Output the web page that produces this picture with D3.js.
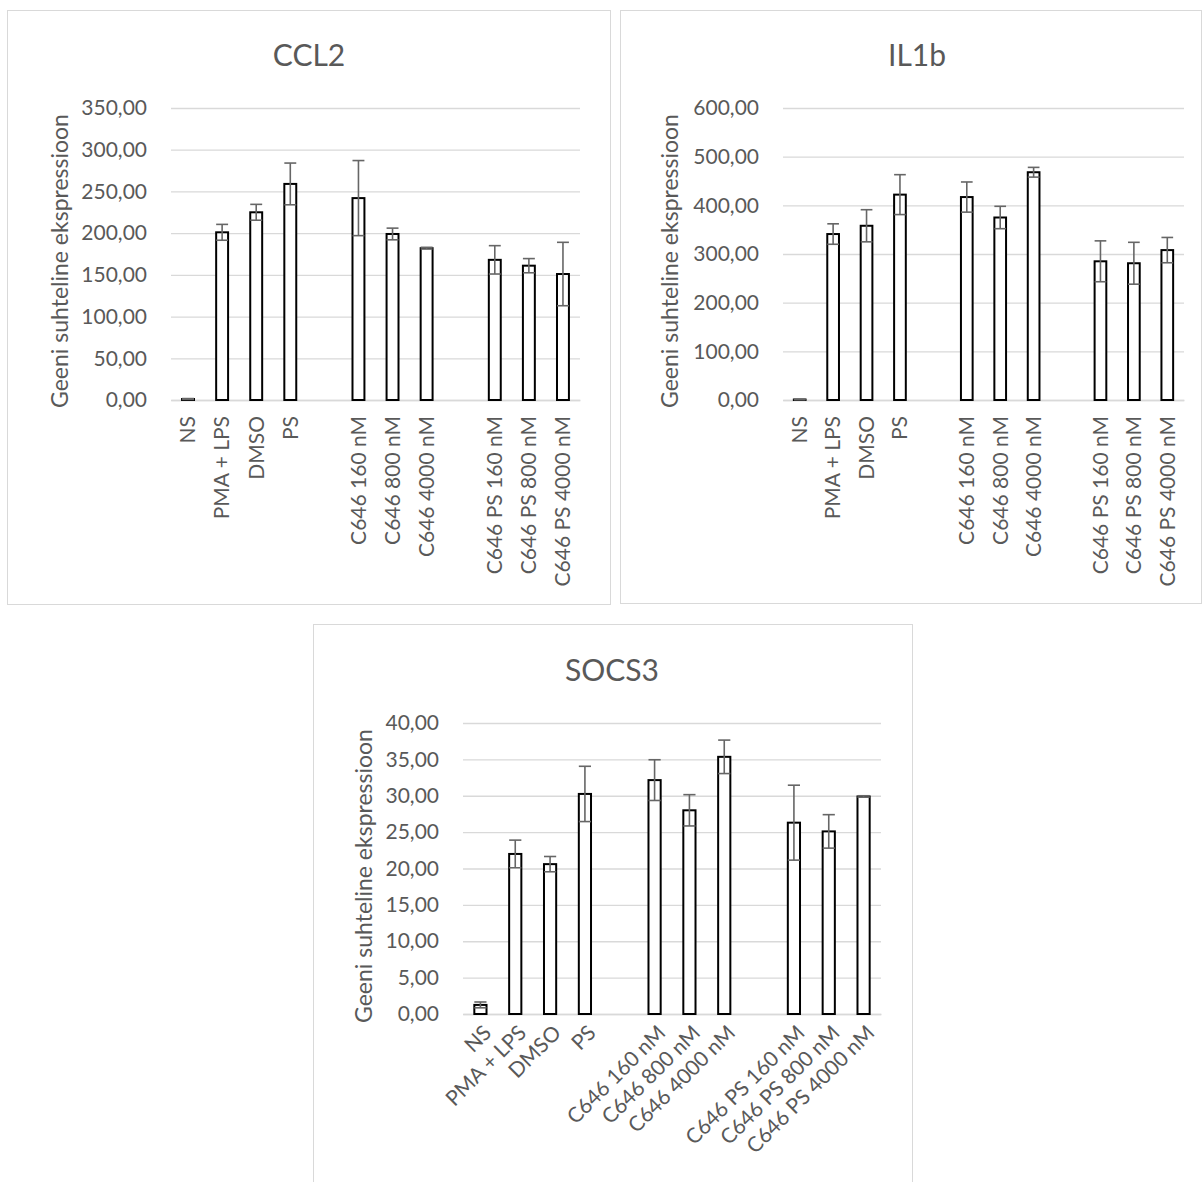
<!DOCTYPE html>
<html>
<head>
<meta charset="utf-8">
<script src="https://cdn.jsdelivr.net/npm/d3@7"></script>
<style>
  body { margin: 0; background: #fff; }
  svg { display: block; font-family: Lato, "Noto Sans", sans-serif; }
</style>
</head>
<body>
<svg id="chart" width="1202" height="1182"></svg>
<script>
// categories (two empty slots separate the groups)
const categories = ["NS", "PMA + LPS", "DMSO", "PS", "", "C646 160 nM", "C646 800 nM", "C646 4000 nM", "", "C646 PS 160 nM", "C646 PS 800 nM", "C646 PS 4000 nM"];

const ccl2Values = [1.2, 201, 225, 259, null, 242, 199, 182, null, 168, 161, 151];
const ccl2Errors = [0.5, 9.5, 9.5, 25, null, 45, 7, 1, null, 17, 8.5, 38];
const ccl2Ticks = [0, 50, 100, 150, 200, 250, 300, 350];

const il1bValues = [1, 341, 358, 422, null, 417, 375, 468, null, 285, 281, 308];
const il1bErrors = [0.5, 21, 33, 41, null, 31, 23, 10, null, 42, 43, 26];
const il1bTicks = [0, 100, 200, 300, 400, 500, 600];

const socs3Values = [1.25, 22.0, 20.6, 30.25, null, 32.15, 28.0, 35.35, null, 26.3, 25.1, 29.9];
const socs3Errors = [0.4, 1.9, 1.05, 3.8, null, 2.8, 2.15, 2.3, null, 5.15, 2.3, 0.1];
const socs3Ticks = [0, 5, 10, 15, 20, 25, 30, 35, 40];

const yTitle = "Geeni suhteline ekspressioon";

const locale = d3.formatLocale({ decimal: ",", thousands: " ", grouping: [3], currency: ["", "€"] });
const fmt = locale.format(".2f");

const svg = d3.select("#chart");

function drawPanel(opt) {
  const g = svg.append("g");

  // panel border
  g.append("rect")
    .attr("x", opt.box[0] + 0.5).attr("y", opt.box[1] + 0.5)
    .attr("width", opt.box[2] - opt.box[0]).attr("height", opt.box[3] - opt.box[1])
    .attr("fill", "#fff").attr("stroke", "#d9d9d9").attr("stroke-width", 1);

  const x = d3.scaleBand()
    .domain(d3.range(categories.length))
    .range([opt.left, opt.right])
    .paddingInner(0.65).paddingOuter(0.325);

  const y = d3.scaleLinear()
    .domain([0, d3.max(opt.ticks)])
    .range([opt.bottom, opt.top]);

  // gridlines
  const grid = g.append("g")
    .attr("transform", `translate(${opt.left},0)`)
    .call(d3.axisLeft(y).tickValues(opt.ticks).tickSize(-(opt.right - opt.left)).tickFormat(""));
  grid.select(".domain").remove();
  grid.selectAll("line").attr("stroke", "#d9d9d9").attr("stroke-width", 1.3);

  // y tick labels
  const ya = g.append("g")
    .attr("transform", `translate(${opt.left},0)`)
    .call(d3.axisLeft(y).tickValues(opt.ticks).tickSize(0).tickPadding(24).tickFormat(fmt));
  ya.select(".domain").remove();
  ya.selectAll("text").attr("fill", "#595959").style("font-size", "21px")
    .style("font-family", "Lato, 'Noto Sans', sans-serif");

  // x axis labels
  const xa = g.append("g")
    .attr("transform", `translate(0,${opt.bottom})`)
    .call(d3.axisBottom(x).tickSize(0).tickFormat(i => categories[i]));
  xa.select(".domain").attr("stroke", "#d9d9d9").attr("stroke-width", 1.3);
  xa.selectAll("text").attr("fill", "#595959").style("font-size", "21px")
    .style("font-family", "Lato, 'Noto Sans', sans-serif")
    .attr("text-anchor", "end")
    .attr("y", 0).attr("dy", "0.35em");
  if (opt.rotate === -90) {
    xa.selectAll("text").attr("transform", "translate(0,16) rotate(-90)");
  } else {
    xa.selectAll("text").attr("transform", "translate(7,15) rotate(-45)");
  }

  const data = categories.map((c, i) => ({ i, v: opt.values[i], e: opt.errors[i] }))
    .filter(d => d.v != null);

  // bars
  g.append("g").selectAll("rect")
    .data(data).enter().append("rect")
    .attr("x", d => x(d.i))
    .attr("y", d => y(d.v))
    .attr("width", x.bandwidth())
    .attr("height", d => y(0) - y(d.v))
    .attr("fill", "#fff")
    .attr("stroke", "#000")
    .attr("stroke-width", 2);

  // error bars (plus/minus, caps at both ends)
  const eb = g.append("g").attr("stroke", "#666").attr("stroke-width", 1.6);
  const bw = x.bandwidth();
  eb.selectAll(".stem").data(data).enter().append("line")
    .attr("x1", d => x(d.i) + bw / 2).attr("x2", d => x(d.i) + bw / 2)
    .attr("y1", d => y(d.v - d.e)).attr("y2", d => y(d.v + d.e));
  eb.selectAll(".capTop").data(data).enter().append("line")
    .attr("x1", d => x(d.i)).attr("x2", d => x(d.i) + bw)
    .attr("y1", d => y(d.v + d.e)).attr("y2", d => y(d.v + d.e));
  eb.selectAll(".capBot").data(data).enter().append("line")
    .attr("x1", d => x(d.i)).attr("x2", d => x(d.i) + bw)
    .attr("y1", d => y(d.v - d.e)).attr("y2", d => y(d.v - d.e));

  // title
  g.append("text")
    .attr("x", opt.titleX).attr("y", opt.titleY)
    .attr("text-anchor", "middle")
    .attr("fill", "#595959")
    .style("font-size", "30px")
    .text(opt.title);

  // y axis title
  g.append("text")
    .attr("transform", `translate(${opt.yTitleX},${opt.yTitleY}) rotate(-90)`)
    .attr("text-anchor", "middle")
    .attr("dy", "0.35em")
    .attr("fill", "#595959")
    .style("font-size", "23px")
    .text(yTitle);
}

drawPanel({
  title: "CCL2", box: [7, 10, 610, 604],
  left: 171, right: 580, top: 108, bottom: 400,
  ticks: ccl2Ticks, values: ccl2Values, errors: ccl2Errors,
  titleX: 309, titleY: 66, yTitleX: 60, yTitleY: 261, rotate: -90
});

drawPanel({
  title: "IL1b", box: [620, 10, 1201, 603],
  left: 783, right: 1184, top: 108, bottom: 400,
  ticks: il1bTicks, values: il1bValues, errors: il1bErrors,
  titleX: 917, titleY: 66, yTitleX: 670, yTitleY: 261, rotate: -90
});

drawPanel({
  title: "SOCS3", box: [313, 624, 912, 1190],
  left: 463, right: 881, top: 723, bottom: 1014,
  ticks: socs3Ticks, values: socs3Values, errors: socs3Errors,
  titleX: 612, titleY: 681, yTitleX: 364, yTitleY: 876, rotate: -45
});
</script>
</body>
</html>
